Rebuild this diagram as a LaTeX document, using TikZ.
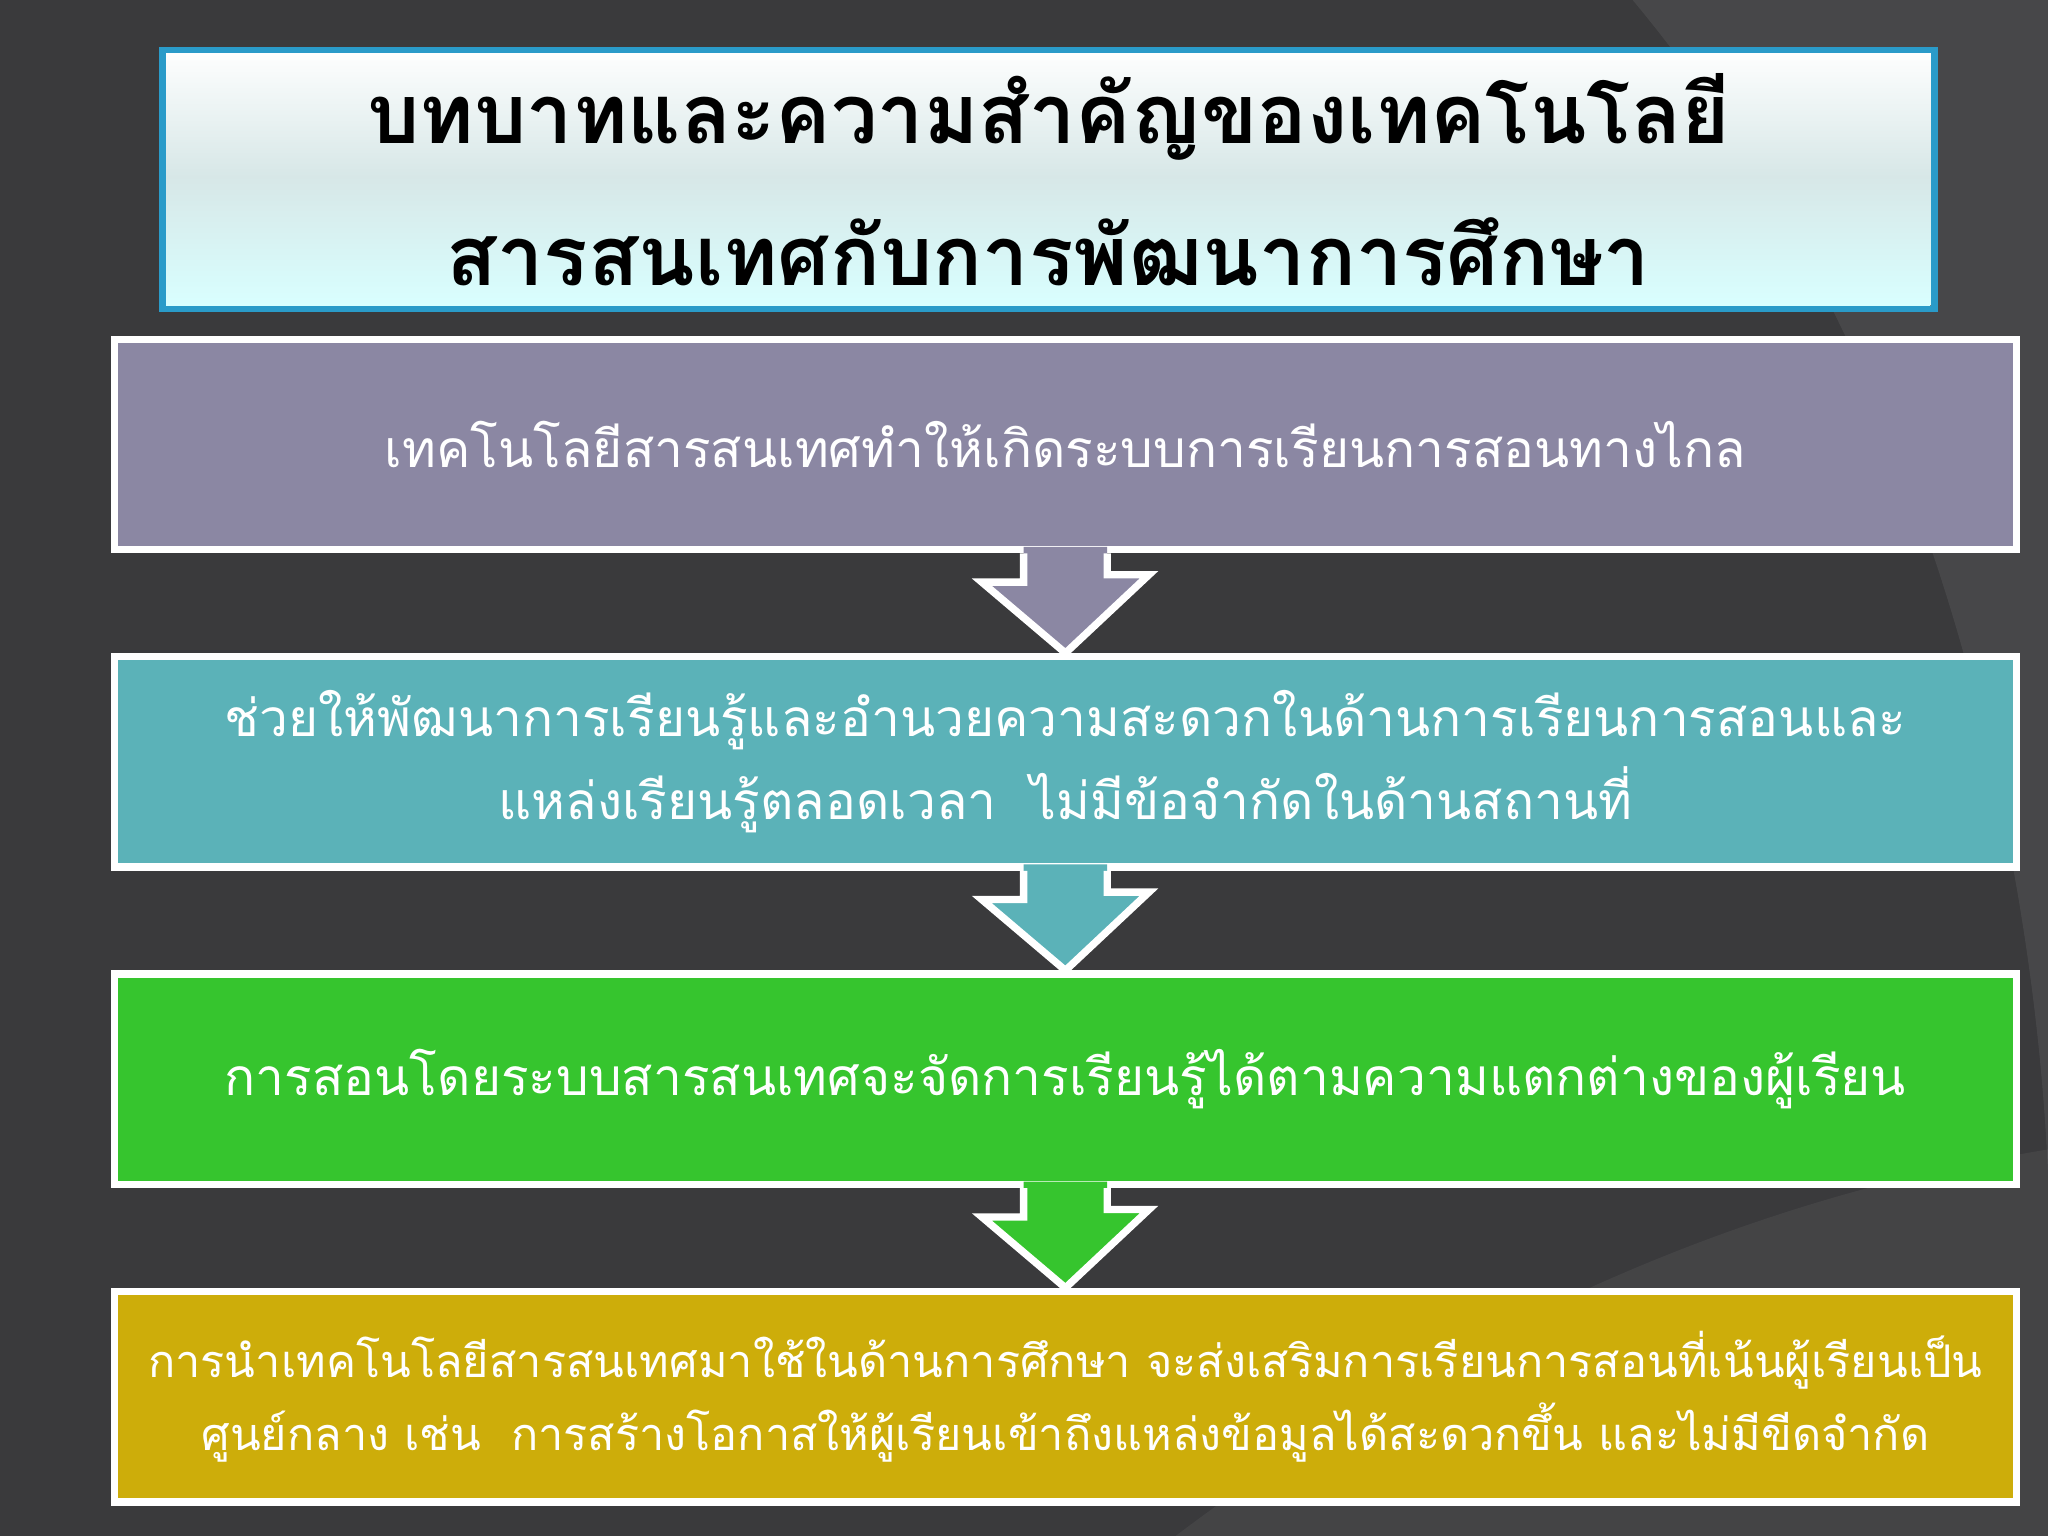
\documentclass[tikz,border=0pt]{standalone}
\usepackage{fontspec}
\newfontfamily\thai[Script=Thai]{Loma}
\usetikzlibrary{positioning}
\definecolor{bgc}{HTML}{3A3A3C}
\definecolor{c1}{HTML}{8B87A3}
\definecolor{c2}{HTML}{5BB2B8}
\definecolor{c3}{HTML}{36C52E}
\definecolor{c4}{HTML}{CDAD0A}
\tikzset{
 box/.style={draw=white,line width=1.6pt,minimum width=14.55cm,text width=14.4cm,minimum height=1.61cm,anchor=north west,text=white,align=center,font=\thai\fontsize{11.2}{18}\selectfont,inner sep=0pt},
}
\begin{document}
\begin{tikzpicture}[x=0.01cm,y=-0.01cm]
\fill[bgc] (0,0) rectangle (1568,1176);
\fill[white,opacity=0.07] (1250,0) .. controls (1500,300) and (1560,700) .. (1568,900) -- (1568,0) -- cycle;
\fill[white,opacity=0.05] (900,1176) .. controls (1200,950) and (1450,900) .. (1568,880) -- (1568,1176) -- cycle;
% title
\shade[top color=white,bottom color=cyan!15!white,middle color=cyan!25!gray!25!white] (122,36) rectangle (1478,234);
\node[draw=cyan!60!teal,line width=1.4pt,minimum width=13.56cm,minimum height=1.98cm,anchor=north west,inner sep=0pt,align=center,font=\thai\bfseries\fontsize{18}{31}\selectfont] (title) at (122,36) {บทบาทและความสำคัญของเทคโนโลยี\\สารสนเทศกับการพัฒนาการศึกษา};
\node[box,fill=c1] (b1) at (85,257) {เทคโนโลยีสารสนเทศทำให้เกิดระบบการเรียนการสอนทางไกล};
\node[box,fill=c2] (b2) at (85,500) {ช่วยให้พัฒนาการเรียนรู้และอำนวยความสะดวกในด้านการเรียนการสอนและ\\แหล่งเรียนรู้ตลอดเวลา\ \ ไม่มีข้อจำกัดในด้านสถานที่};
\node[box,fill=c3] (b3) at (85,743) {การสอนโดยระบบสารสนเทศจะจัดการเรียนรู้ได้ตามความแตกต่างของผู้เรียน};
\node[box,fill=c4,font=\thai\fontsize{9.8}{16}\selectfont] (b4) at (85,986) {การนำเทคโนโลยีสารสนเทศมาใช้ในด้านการศึกษา จะส่งเสริมการเรียนการสอนที่เน้นผู้เรียนเป็น\\ศูนย์กลาง เช่น\ \ การสร้างโอกาสให้ผู้เรียนเข้าถึงแหล่งข้อมูลได้สะดวกขึ้น และไม่มีขีดจำกัด};
\foreach \a/\b/\c in {b1/b2/c1,b2/b3/c2,b3/b4/c3}{
 \path (\a.south) ++(-32,0) coordinate (L) (\a.south) ++(32,0) coordinate (R) (\b.north) coordinate (T);
 \fill[\c] ([yshift=0.05cm]L) -- (L) -- ++(0,22) -- ++(-32,0) -- (T) -- ++(64,-60) -- ++(-32,0) -- (R) -- ([yshift=0.05cm]R) -- cycle;
 \draw[white,line width=1.6pt,line join=miter] (L) -- ++(0,22) -- ++(-32,0) -- (T) -- ++(64,-60) -- ++(-32,0) -- (R);
}
\end{tikzpicture}
\end{document}
